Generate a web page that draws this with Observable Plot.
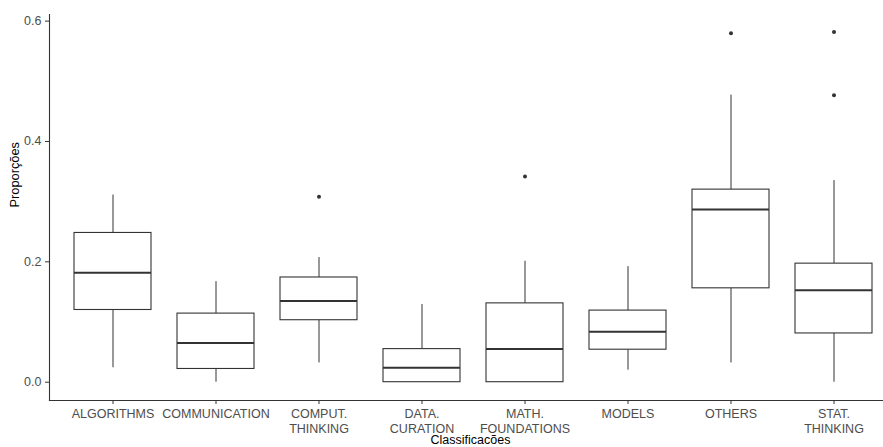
<!DOCTYPE html>
<html>
<head>
<meta charset="utf-8">
<script src="https://cdn.jsdelivr.net/npm/d3@7"></script>
<script src="https://cdn.jsdelivr.net/npm/@observablehq/plot@0.6"></script>
<style>
  body { margin: 0; background: #fff; }
  #chart svg [aria-label="y-axis tick label"],
  #chart svg [aria-label="x-axis tick label"] { fill: #4d4d4d; }
</style>
</head>
<body>
<div id="chart"></div>
<script>
// Classification categories (x axis)
const categories = [
  "ALGORITHMS", "COMMUNICATION", "COMPUT.\nTHINKING", "DATA.\nCURATION",
  "MATH.\nFOUNDATIONS", "MODELS", "OTHERS", "STAT.\nTHINKING"
];

// Box-plot summary per category
const whiskerLow  = [0.024, 0.000, 0.032, 0.000, 0.000, 0.020, 0.032, 0.000];
const q1          = [0.120, 0.022, 0.103, 0.000, 0.000, 0.054, 0.156, 0.081];
const median      = [0.182, 0.065, 0.135, 0.024, 0.055, 0.084, 0.287, 0.153];
const q3          = [0.248, 0.114, 0.174, 0.055, 0.131, 0.119, 0.320, 0.197];
const whiskerHigh = [0.311, 0.167, 0.207, 0.129, 0.201, 0.192, 0.477, 0.335];

// Outliers
const outlierCategory = ["COMPUT.\nTHINKING", "MATH.\nFOUNDATIONS", "OTHERS", "STAT.\nTHINKING", "STAT.\nTHINKING"];
const outlierValue    = [0.308, 0.342, 0.580, 0.582, 0.477];

// Axis ticks
const yTicks = [0, 0.2, 0.4, 0.6];

const boxes = categories.map((c, i) => ({
  cat: c, lo: whiskerLow[i], q1: q1[i], med: median[i], q3: q3[i], hi: whiskerHigh[i]
}));
const outliers = outlierCategory.map((c, i) => ({cat: c, value: outlierValue[i]}));

const ink = "#333333";

const chart = Plot.plot({
  width: 883,
  height: 447,
  marginLeft: 49,
  marginRight: 0,
  marginTop: 14,
  marginBottom: 47,
  style: {fontFamily: "Arial, 'Liberation Sans', sans-serif", fontSize: "12.5px", background: "#fff"},
  x: {type: "band", domain: categories, range: [49, 897], paddingInner: 0.25, paddingOuter: 0.225},
  y: {domain: [-0.0304, 0.611]},
  marks: [
    // whiskers
    Plot.ruleX(boxes, {x: "cat", y1: "lo", y2: "q1", stroke: ink, strokeWidth: 1}),
    Plot.ruleX(boxes, {x: "cat", y1: "q3", y2: "hi", stroke: ink, strokeWidth: 1}),
    // boxes
    Plot.barY(boxes, {x: "cat", y1: "q1", y2: "q3", fill: "white", stroke: ink, strokeWidth: 1.1}),
    // medians
    Plot.tickY(boxes, {x: "cat", y: "med", stroke: ink, strokeWidth: 2}),
    // outliers
    Plot.dot(outliers, {x: "cat", y: "value", r: 2, fill: ink, stroke: null}),
    // axis lines (left and bottom of the panel)
    Plot.frame({anchor: "left", stroke: ink, strokeWidth: 1.1}),
    Plot.frame({anchor: "bottom", stroke: ink, strokeWidth: 1.1}),
    // axes
    Plot.axisY({ticks: yTicks, tickFormat: d3.format(".1f"), tickSize: 4, tickPadding: 4,
                label: null, stroke: ink, fontSize: 12.5}),
    Plot.axisX({tickSize: 4, tickPadding: 3, lineHeight: 1.2, label: null, stroke: ink, fontSize: 12.5}),
    // axis titles
    Plot.text(["Proporções"], {frameAnchor: "left", rotate: -90, dx: -35, fontSize: 12.8, fill: "black"}),
    Plot.text(["Classificacões"], {frameAnchor: "bottom", lineAnchor: "top", dy: 34.5, dx: 4, fontSize: 12.5, fill: "black"})
  ]
});

document.getElementById("chart").append(chart);
</script>
</body>
</html>
